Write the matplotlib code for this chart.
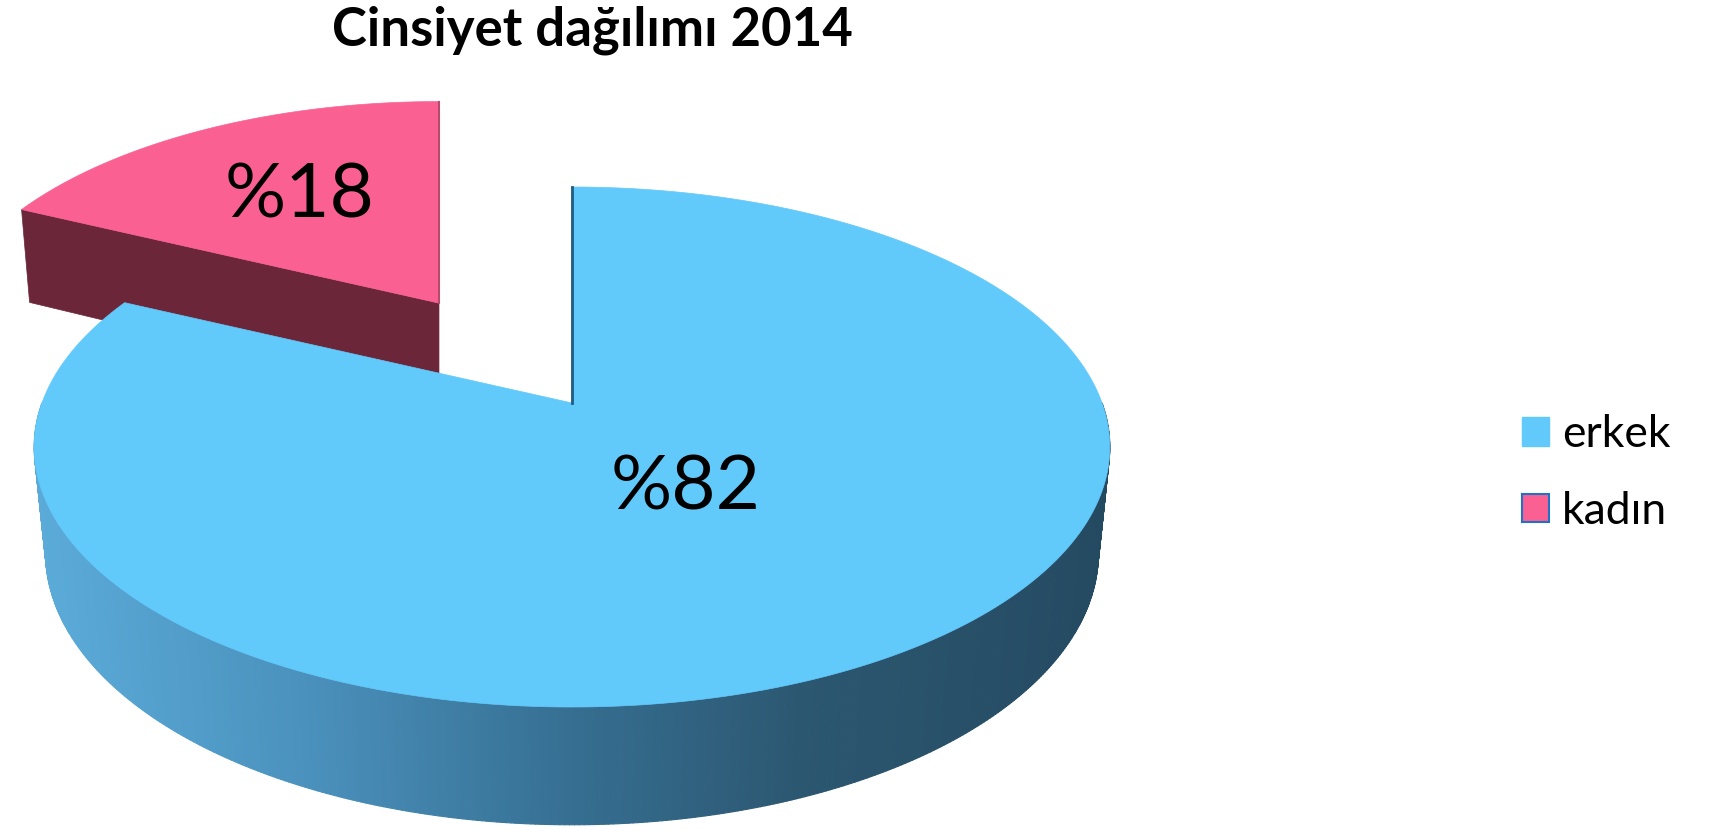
import numpy as np
import matplotlib.pyplot as plt
from matplotlib.patches import Polygon, Patch
from matplotlib.collections import PolyCollection
from matplotlib.colors import to_rgb

# chart data
labels = ['erkek', 'kadın']
values = [82, 18]
pct_labels = ['%82', '%18']
title = 'Cinsiyet dağılımı 2014'

top_colors = ['#62C9FB', '#FA6192']
side_pink = '#6B2739'

plt.rcParams['font.family'] = ['Lato', 'DejaVu Sans']

# simple perspective camera (screen pixels)
CX, CY = 572, 403
S, L = 2753.0, 5.194
SN, CS = 0.4765, 0.879
H = 0.229
EXPLODE = 0.502


def proj(x, y, z):
    d = L + y * CS - z * SN
    return S * x / d, -S * (y * SN + z * CS) / d


def wall_color(px):
    xs = [40, 300, 570, 800, 1112]
    cols = np.array([to_rgb(c) for c in ['#5BABD9', '#4B92BE', '#366F92', '#2C5771', '#244A61']])
    return [np.interp(px, xs, cols[:, i]) for i in range(3)]


fig = plt.figure(figsize=(17.16, 8.30), dpi=100)
ax = fig.add_axes([0, 0, 1, 1])
ax.set_xlim(0, 1716)
ax.set_ylim(830, 0)
ax.axis('off')

fr = np.array(values) / sum(values)
t_start = 90.0
t_erk = (t_start - 360 * fr[0], t_start)           # clockwise from 12 o'clock
t_kad = (t_start - 360.0, t_start - 360 * fr[0])

# ---- kadın slice (exploded, drawn first: it is behind) ----
mid = np.radians(sum(t_kad) / 2)
x0, y0 = EXPLODE * np.cos(mid), EXPLODE * np.sin(mid)
ax0, ay0 = proj(x0, y0, 0)
k = L / (L + y0 * CS)


def proj_p(dx, dy, dz):
    px, py = proj(dx, dy, dz)
    return CX + ax0 + k * px, CY + ay0 + k * py


a1 = np.radians(t_kad[1])
edge = [proj_p(0, 0, 0), proj_p(np.cos(a1), np.sin(a1), 0),
        proj_p(np.cos(a1), np.sin(a1), -H), proj_p(0, 0, -H)]
ax.add_patch(Polygon(edge, closed=True, facecolor=side_pink, edgecolor=side_pink, lw=0.5))

th = np.radians(np.linspace(t_kad[0], t_kad[1], 120))
pts = [proj_p(0, 0, 0)] + [proj_p(np.cos(t), np.sin(t), 0) for t in th]
ax.add_patch(Polygon(pts, closed=True, facecolor=top_colors[1], edgecolor=top_colors[1], lw=0.5))
p_top = proj_p(0, 1, 0)
ax.plot([p_top[0], proj_p(0, 0, 0)[0]], [p_top[1], proj_p(0, 0, 0)[1]], color='#B84A72', lw=1.5)

# ---- erkek slice ----
th = np.radians(np.linspace(-180, 0, 400))
quads, cols = [], []
for ta, tb in zip(th[:-1], th[1:]):
    q = []
    for t, z in [(ta, 0), (tb, 0), (tb, -H), (ta, -H)]:
        px, py = proj(np.cos(t), np.sin(t), z)
        q.append((CX + px, CY + py))
    quads.append(q)
    cols.append(wall_color(np.mean([p[0] for p in q])))
ax.add_collection(PolyCollection(quads, facecolors=cols, edgecolors=cols, linewidths=0.8))

th = np.radians(np.linspace(t_erk[0], t_erk[1], 500))
pts = [(CX, CY)] + [(CX + proj(np.cos(t), np.sin(t), 0)[0], CY + proj(np.cos(t), np.sin(t), 0)[1]) for t in th]
ax.add_patch(Polygon(pts, closed=True, facecolor=top_colors[0], edgecolor=top_colors[0], lw=0.5))
ft = proj(0, 1, 0)
ax.plot([CX, CX + ft[0]], [CY, CY + ft[1]], color='#1E5C80', lw=2)

# labels
ax.text(686, 488, pct_labels[0], fontsize=55, ha='center', va='center', color='black')
ax.text(300, 196, pct_labels[1], fontsize=55, ha='center', va='center', color='black')

ax.text(592, 30, title, fontsize=38, fontweight='bold', ha='center', va='center')

handles = [Patch(facecolor=top_colors[0], edgecolor=top_colors[0]),
           Patch(facecolor=top_colors[1], edgecolor='#1F72C4', linewidth=1.5)]
ax.legend(handles, labels, loc='center left', bbox_to_anchor=(1522 / 1716, 1 - 473 / 830),
          frameon=False, fontsize=32, handlelength=0.6, handleheight=0.6,
          handletextpad=0.3, labelspacing=0.8, borderpad=0, borderaxespad=0)

fig.savefig('out.png', dpi=100)
